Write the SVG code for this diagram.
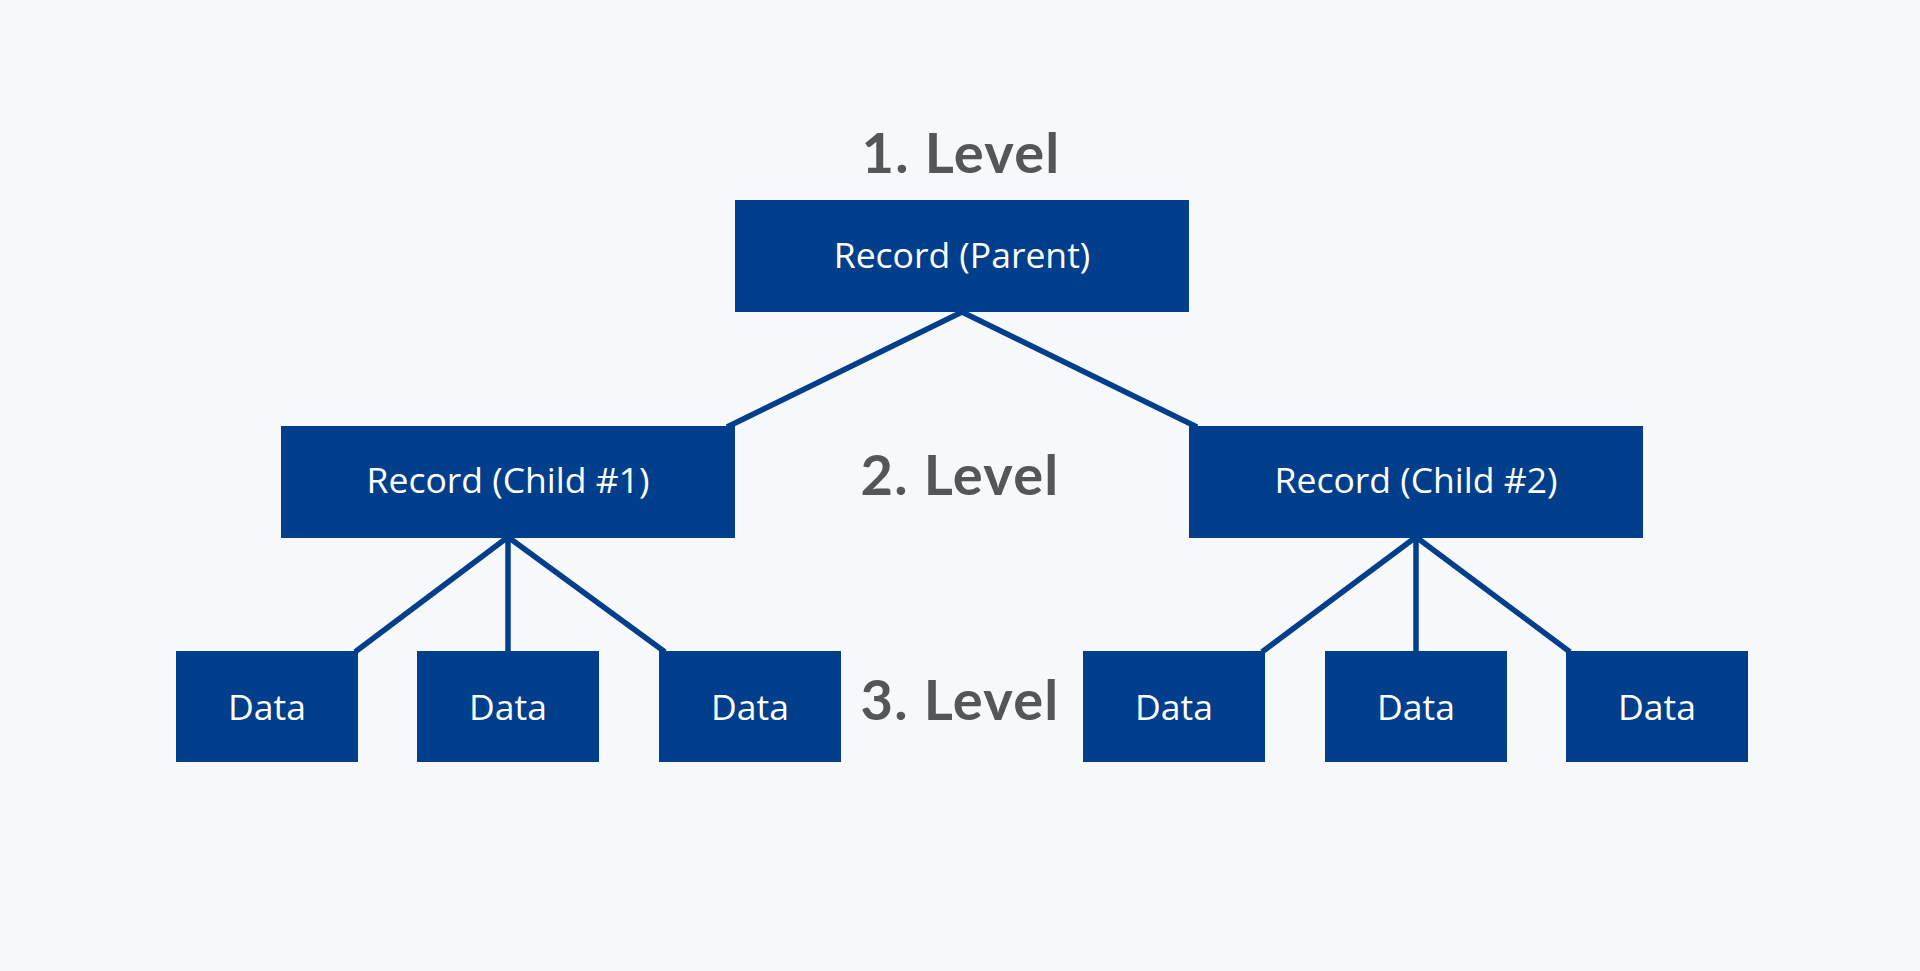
<svg xmlns="http://www.w3.org/2000/svg" width="1920" height="971" viewBox="0 0 1920 971">
<style>
.box{fill:#013f8d}
.lbl{font-family:"Open Sans","Noto Sans",sans-serif;font-size:35.5px;fill:#ffffff;text-anchor:middle}
.lvl{font-family:Lato,"Liberation Sans",sans-serif;font-weight:700;font-size:56px;letter-spacing:1.3px;fill:#53575a;text-anchor:middle}
.con{stroke:#013f8d;stroke-width:5.5;fill:none;stroke-linecap:butt}
</style>
<rect width="1920" height="971" fill="#f7f8f9"/>
<g id="connectors">
<line class="con" x1="962" y1="312" x2="727" y2="427"/>
<line class="con" x1="962" y1="312" x2="1197" y2="427"/>
<line class="con" x1="508" y1="537" x2="355" y2="652"/>
<line class="con" x1="508" y1="537" x2="508" y2="652"/>
<line class="con" x1="508" y1="537" x2="665" y2="652"/>
<line class="con" x1="1416" y1="537" x2="1262" y2="652"/>
<line class="con" x1="1416" y1="537" x2="1416" y2="652"/>
<line class="con" x1="1416" y1="537" x2="1570" y2="652"/>
</g>
<g id="level1"><text class="lvl" x="961" y="173">1. Level</text></g>
<g id="level2"><text class="lvl" x="960" y="495">2. Level</text></g>
<g id="level3"><text class="lvl" x="960" y="720">3. Level</text></g>
<g id="parent"><rect class="box" x="735" y="200" width="454" height="112"/><text class="lbl" x="962" y="268">Record (Parent)</text></g>
<g id="child1"><rect class="box" x="281" y="426" width="454" height="112"/><text class="lbl" x="508" y="493">Record (Child #1)</text></g>
<g id="child2"><rect class="box" x="1189" y="426" width="454" height="112"/><text class="lbl" x="1416" y="493">Record (Child #2)</text></g>
<g id="data1"><rect class="box" x="176" y="651" width="182" height="111"/><text class="lbl" x="267" y="720">Data</text></g>
<g id="data2"><rect class="box" x="417" y="651" width="182" height="111"/><text class="lbl" x="508" y="720">Data</text></g>
<g id="data3"><rect class="box" x="659" y="651" width="182" height="111"/><text class="lbl" x="750" y="720">Data</text></g>
<g id="data4"><rect class="box" x="1083" y="651" width="182" height="111"/><text class="lbl" x="1174" y="720">Data</text></g>
<g id="data5"><rect class="box" x="1325" y="651" width="182" height="111"/><text class="lbl" x="1416" y="720">Data</text></g>
<g id="data6"><rect class="box" x="1566" y="651" width="182" height="111"/><text class="lbl" x="1657" y="720">Data</text></g>
</svg>
